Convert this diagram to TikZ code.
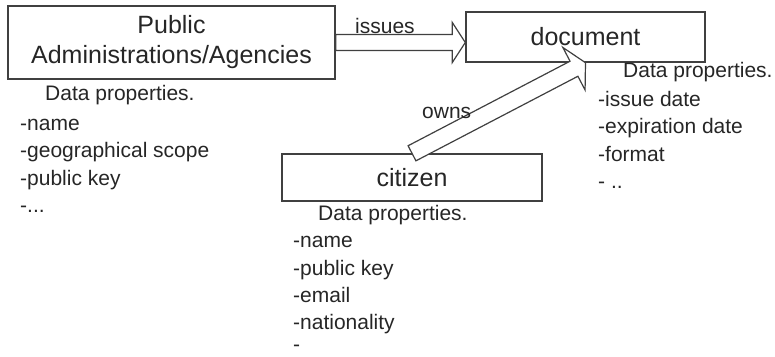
\documentclass[tikz,border=0pt]{standalone}
\usepackage{fontspec}
\setmainfont{Liberation Sans}
\usetikzlibrary{calc}
\tikzset{
  box/.style={draw=black!75, line width=1.4pt, inner sep=0pt, font=\fontsize{25}{30}\selectfont, text=black!85, align=center},
  prop/.style={anchor=base west, inner sep=0pt, font=\fontsize{21}{25}\selectfont, text=black!85},
  blockarrow/.style={draw=black!75, fill=white, line width=1.2pt, line join=miter},
}
\newcommand\AP[2]{({\x1+(#1)*cos(\n1)-(#2)*sin(\n1)},{\y1+(#1)*sin(\n1)+(#2)*cos(\n1)})}
\newcommand\blockarr[5]{%
 \draw[blockarrow] let \p1=(#1), \p2=(#2), \n1={atan2(\y2-\y1,\x2-\x1)}, \n2={veclen(\x2-\x1,\y2-\y1)} in
  \AP{0pt}{#3} -- \AP{\n2-#5}{#3} -- \AP{\n2-#5}{#4} -- \AP{\n2}{0pt} -- \AP{\n2-#5}{-#4} -- \AP{\n2-#5}{-#3} -- \AP{0pt}{-#3} -- cycle;}
\begin{document}
\begin{tikzpicture}[x=1pt,y=-1pt]
\useasboundingbox (0,0) rectangle (775,356);
\node[box, minimum width=327pt, minimum height=73pt] (pa) at (171.5,42.5) {Public\\Administrations/Agencies};
\node[box, minimum width=239pt, minimum height=50pt] (doc) at (585.5,37) {document};
\node[box, minimum width=260pt, minimum height=47pt] (cit) at (412,177.5) {citizen};

\blockarr{pa.east}{pa.east -| doc.west}{8pt}{20pt}{13pt}
\blockarr{cit.north}{doc.south}{8.5pt}{24pt}{13pt}

\node[prop] (iss) at (355,33) {issues};
\node[prop] (own) at (422,118) {owns};

\node[prop] (pah) at (45,100) {Data properties.};
\node[prop] (pa1) at (20,130) {-name};
\node[prop] (pa2) at (20,157.5) {-geographical scope};
\node[prop] (pa3) at (20,185) {-public key};
\node[prop] (pa4) at (20,212.5) {-...};

\node[prop] (doch) at (623,77) {Data properties.};
\node[prop] (doc1) at (598,106) {-issue date};
\node[prop] (doc2) at (598,133.5) {-expiration date};
\node[prop] (doc3) at (598,161) {-format};
\node[prop] (doc4) at (598,188.5) {- ..};

\node[prop] (cith) at (318,220) {Data properties.};
\node[prop] (cit1) at (293,247.5) {-name};
\node[prop] (cit2) at (293,275) {-public key};
\node[prop] (cit3) at (293,302.5) {-email};
\node[prop] (cit4) at (293,329.5) {-nationality};
\node[prop] (cit5) at (293,351) {-};
\end{tikzpicture}
\end{document}
